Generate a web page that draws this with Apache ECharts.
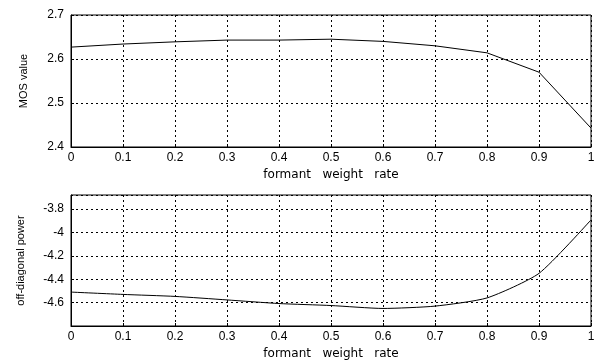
<!DOCTYPE html>
<html>
<head>
<meta charset="utf-8">
<script src="https://cdn.jsdelivr.net/npm/echarts@6/dist/echarts.min.js"></script>
<style>
  html, body { margin: 0; padding: 0; background: #fff; }
  #chart { width: 598px; height: 361px; }
</style>
</head>
<body>
<div id="chart"></div>
<script>
const weightRates = [0, 0.1, 0.2, 0.3, 0.4, 0.5, 0.6, 0.7, 0.8, 0.9, 1];
const mosValues = [2.627, 2.634, 2.639, 2.643, 2.643, 2.645, 2.64, 2.63, 2.614, 2.57, 2.443];
const offDiagPower = [-4.51, -4.53, -4.547, -4.577, -4.608, -4.625, -4.65, -4.63, -4.56, -4.35, -3.893];

const font = "Liberation Sans, Arial, sans-serif";
const gridLine = { show: true, lineStyle: { color: "#000", type: [2, 3], width: 1 } };

const fmt = (v) => String(Number(v.toFixed(2)));

function xAxisFor(gridIndex) {
  return {
    gridIndex,
    type: "value",
    min: 0,
    max: 1,
    interval: 0.1,
    name: "formant   weight   rate",
    nameLocation: "middle",
    nameGap: 22,
    nameTextStyle: { color: "#000", fontSize: 12, fontFamily: "DejaVu Sans" },
    axisLine: { show: true, lineStyle: { color: "#000" } },
    axisTick: { show: true, inside: true, length: 3, lineStyle: { color: "#000" } },
    axisLabel: { color: "#000", fontSize: 12, fontFamily: font, margin: 5, formatter: fmt },
    splitLine: gridLine,
  };
}

const chart = echarts.init(document.getElementById("chart"));
chart.setOption({
  animation: false,
  grid: [
    { left: 71, right: 7, top: 15, height: 132, show: true, borderColor: "#000", borderWidth: 1 },
    { left: 71, right: 7, top: 195, height: 133, show: true, borderColor: "#000", borderWidth: 1 },
  ],
  xAxis: [xAxisFor(0), xAxisFor(1)],
  yAxis: [
    {
      gridIndex: 0,
      type: "value",
      min: 2.4,
      max: 2.7,
      interval: 0.1,
      name: "MOS value",
      nameLocation: "middle",
      nameGap: 42,
      nameTextStyle: { color: "#000", fontSize: 11, fontFamily: font },
      axisLine: { show: true, lineStyle: { color: "#000" } },
      axisTick: { show: true, inside: true, length: 3, lineStyle: { color: "#000" } },
      axisLabel: { color: "#000", fontSize: 12, fontFamily: font, margin: 7, formatter: fmt },
      splitLine: gridLine,
    },
    {
      gridIndex: 1,
      type: "value",
      min: -4.8,
      max: -3.68,
      interval: 0.2,
      name: "off-diagonal power",
      nameLocation: "middle",
      nameGap: 45,
      nameTextStyle: { color: "#000", fontSize: 11, fontFamily: font },
      axisLine: { show: true, lineStyle: { color: "#000" } },
      axisTick: { show: true, inside: true, length: 3, lineStyle: { color: "#000" } },
      axisLabel: {
        color: "#000", fontSize: 12, fontFamily: font, margin: 7,
        showMinLabel: false, showMaxLabel: false, formatter: fmt,
      },
      splitLine: gridLine,
    },
  ],
  series: [
    {
      type: "line",
      xAxisIndex: 0,
      yAxisIndex: 0,
      data: weightRates.map((x, i) => [x, mosValues[i]]),
      showSymbol: false,
      lineStyle: { color: "#000", width: 1 },
    },
    {
      type: "line",
      xAxisIndex: 1,
      yAxisIndex: 1,
      data: weightRates.map((x, i) => [x, offDiagPower[i]]),
      showSymbol: false,
      smooth: 0.2,
      lineStyle: { color: "#000", width: 1 },
    },
  ],
});
</script>
</body>
</html>
